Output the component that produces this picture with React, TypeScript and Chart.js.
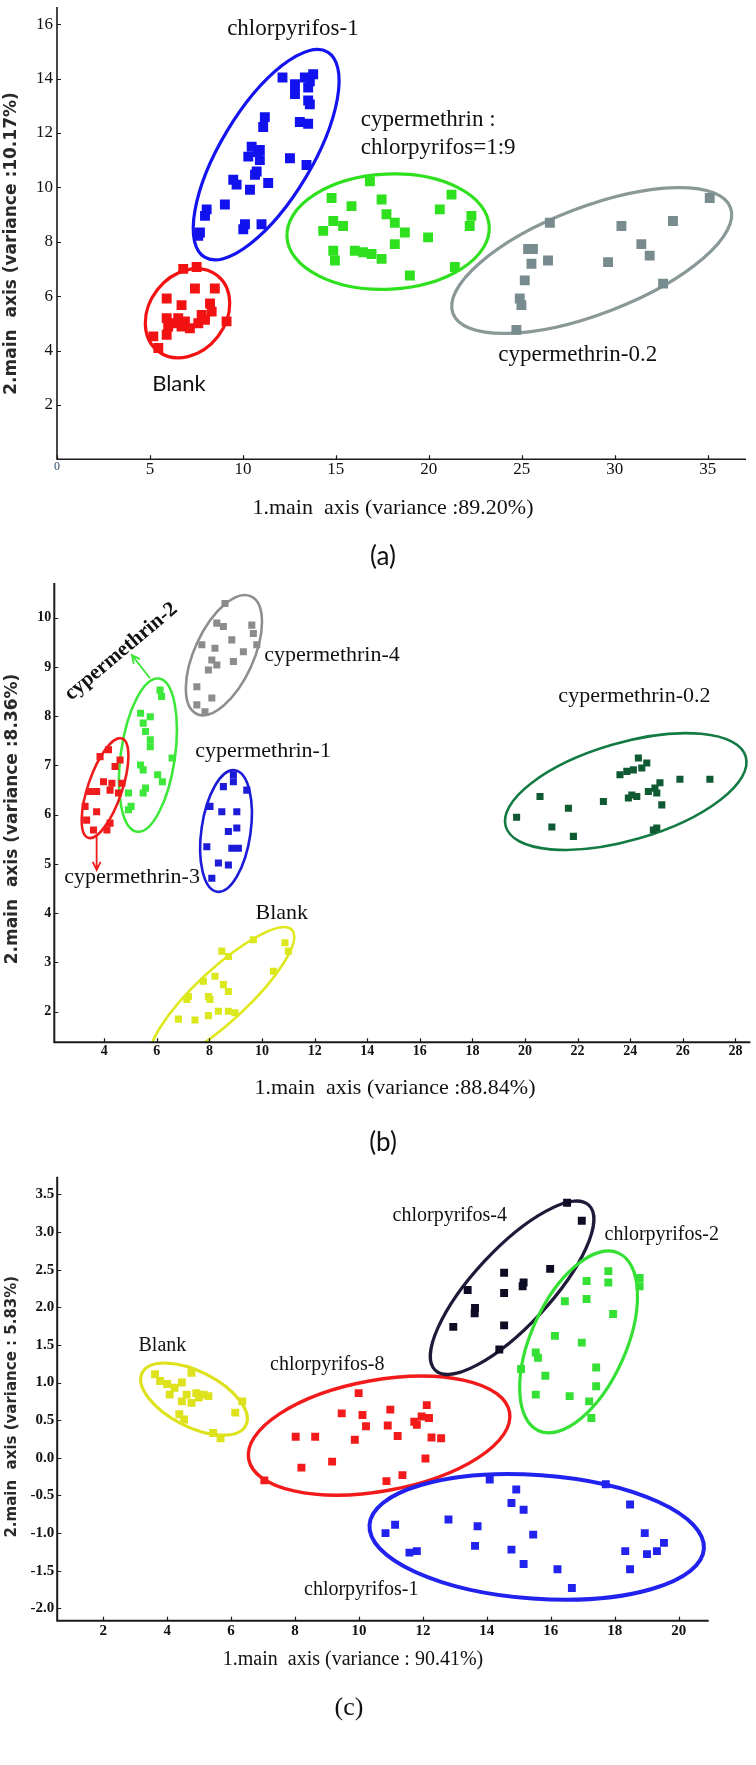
import React, { useEffect, useRef } from 'react';
import { Chart, registerables } from 'chart.js';

Chart.register(...registerables);

type Pt = [number, number];
// ellipse geometry in data units: [centerX, centerY, majorSemiAxisDX, majorSemiAxisDY, minor/major ratio]
type Ell = [number, number, number, number, number];

// ---------------- Panel (a) ----------------
const aXTicks = ['0', '5', '10', '15', '20', '25', '30', '35'];
const aYTicks = ['2', '4', '6', '8', '10', '12', '14', '16'];
const aChlorpyrifos1: Pt[] = [
  [12.13, 14.04], [12.8, 13.79], [12.8, 13.43], [13.33, 14.04], [13.78, 14.16], [13.51, 13.67], [13.51, 13.19],
  [13.06, 12.4], [13.51, 12.34], [11.18, 12.58], [11.09, 12.22], [10.47, 11.49], [10.91, 11.37], [10.29, 11.13],
  [10.91, 11.0], [10.74, 10.58], [11.36, 10.16], [12.53, 11.07], [13.42, 10.82], [9.48, 10.28], [9.66, 10.1],
  [10.38, 9.91], [9.03, 9.37], [8.05, 9.19], [7.96, 8.95], [7.69, 8.34], [7.6, 8.22], [10.11, 8.64], [10.02, 8.46],
  [11.0, 8.64], [10.65, 10.46], [13.6, 13.9], [10.8, 11.3], [13.6, 13.05],
];
const aBlank: Pt[] = [
  [6.79, 7.0], [7.51, 7.07], [7.42, 6.28], [8.49, 6.28], [5.9, 5.91], [6.7, 5.67], [8.23, 5.73], [8.32, 5.43],
  [5.9, 5.19], [6.52, 5.19], [6.88, 5.07], [5.98, 4.88], [6.7, 4.88], [7.15, 4.82], [7.6, 5.0], [7.96, 5.13],
  [9.12, 5.07], [5.9, 4.58], [5.18, 4.52], [5.45, 4.09], [6.25, 5.0], [7.78, 5.31],
];
const aMix: Pt[] = [
  [16.83, 10.22], [14.77, 9.61], [15.84, 9.31], [17.46, 9.55], [21.22, 9.73], [20.59, 9.19], [22.29, 8.95],
  [22.2, 8.58], [17.72, 9.01], [18.17, 8.7], [18.71, 8.34], [14.86, 8.76], [15.39, 8.58], [14.32, 8.4],
  [19.96, 8.16], [18.17, 7.91], [14.86, 7.67], [14.95, 7.31], [16.02, 7.67], [16.47, 7.61], [16.92, 7.55],
  [17.46, 7.37], [18.98, 6.76], [21.4, 7.07],
];
const aCyper02: Pt[] = [
  [26.51, 8.7], [30.36, 8.58], [33.13, 8.76], [35.11, 9.61], [25.34, 7.73], [25.6, 7.73], [31.43, 7.91],
  [31.88, 7.49], [26.41, 7.31], [25.52, 7.19], [29.64, 7.25], [25.16, 6.58], [24.89, 5.91], [24.98, 5.67],
  [32.6, 6.46], [24.71, 4.76],
];
const aEllChlorpyrifos1: Ell = [11.25, 11.2, 3.31, 3.77, 0.382];
const aEllBlank: Ell = [7.02, 5.37, 1.587, 1.393, 0.797];
const aEllMix: Ell = [17.81, 8.37, 5.44, 0.19, 0.568];
const aEllCyper02: Ell = [28.76, 7.31, 7.46, 1.953, 0.36];
const aLabels = [
  { text: 'chlorpyrifos-1', x: 12.69, y: 15.83 },
  { text: 'cypermethrin :', x: 16.34, y: 12.46 },
  { text: 'chlorpyrifos=1:9', x: 16.34, y: 11.43 },
  { text: 'cypermethrin-0.2', x: 28.01, y: 3.83 },
  { text: 'Blank', x: 6.56, y: 2.79 },
];

// ---------------- Panel (b) ----------------
const bXTicks = ['4', '6', '8', '10', '12', '14', '16', '18', '20', '22', '24', '26', '28'];
const bYTicks = ['2', '3', '4', '5', '6', '7', '8', '9', '10'];
const bCyper4: Pt[] = [
  [8.59, 10.29], [8.28, 9.89], [8.53, 9.82], [9.61, 9.85], [9.67, 9.68], [8.85, 9.55], [9.8, 9.45], [7.71, 9.45],
  [8.21, 9.38], [9.29, 9.31], [8.09, 9.14], [8.28, 9.04], [7.96, 8.94], [8.91, 9.11], [7.52, 8.6], [8.09, 8.37],
  [7.52, 8.23], [7.83, 8.09],
];
const bCyper2: Pt[] = [
  [6.12, 8.53], [6.18, 8.4], [5.38, 8.06], [5.75, 7.99], [5.48, 7.86], [5.57, 7.69], [5.75, 7.52], [5.75, 7.38],
  [6.58, 7.15], [5.38, 7.01], [5.48, 6.91], [6.03, 6.81], [6.21, 6.67], [5.57, 6.54], [5.48, 6.44], [4.92, 6.44],
  [5.02, 6.17], [4.92, 6.1],
];
const bCyper3: Pt[] = [
  [3.84, 7.18], [4.16, 7.32], [4.6, 7.11], [4.41, 6.98], [3.97, 6.67], [4.29, 6.64], [4.67, 6.64], [3.46, 6.47],
  [3.71, 6.47], [4.22, 6.5], [4.54, 6.44], [3.27, 6.17], [3.71, 6.06], [3.33, 5.89], [4.22, 5.83], [3.59, 5.69],
  [4.1, 5.69],
];
const bCyper1: Pt[] = [
  [8.91, 6.81], [8.91, 6.67], [8.53, 6.57], [9.42, 6.5], [8.02, 6.17], [8.47, 6.06], [9.04, 6.06], [9.04, 5.73],
  [8.72, 5.66], [8.85, 5.32], [9.1, 5.32], [7.9, 5.35], [8.34, 5.02], [8.72, 4.98], [8.09, 4.71],
];
const bCyper02: Pt[] = [
  [24.31, 7.15], [24.63, 7.05], [24.44, 6.95], [24.12, 6.91], [23.87, 6.88], [23.61, 6.81], [25.89, 6.72],
  [27.03, 6.72], [25.13, 6.65], [24.94, 6.54], [24.69, 6.47], [25.01, 6.44], [24.06, 6.4], [23.93, 6.34],
  [24.25, 6.37], [25.2, 6.2], [20.57, 6.37], [22.98, 6.27], [21.65, 6.13], [19.68, 5.95], [21.02, 5.75],
  [21.84, 5.56], [24.88, 5.69], [25.01, 5.73],
];
const bBlank: Pt[] = [
  [9.67, 3.46], [10.87, 3.4], [11.0, 3.23], [8.47, 3.23], [8.72, 3.12], [10.43, 2.82], [8.21, 2.72], [7.77, 2.62],
  [8.53, 2.55], [8.72, 2.41], [7.2, 2.31], [7.96, 2.31], [7.14, 2.25], [8.02, 2.25], [8.34, 2.01], [8.72, 2.01],
  [8.97, 1.98], [7.96, 1.92], [6.82, 1.85], [7.45, 1.83],
];
const bEllCyper4: Ell = [8.55, 9.24, 1.03, 1.194, 0.455];
const bEllCyper2: Ell = [5.66, 7.21, 0.418, 1.555, 0.35];
const bEllCyper3: Ell = [4.03, 6.54, 0.643, 1.009, 0.324];
const bEllCyper1: Ell = [8.63, 5.67, 0.337, 1.234, 0.4];
const bEllCyper02: Ell = [23.83, 6.47, 4.563, 0.709, 0.39];
const bEllBlank: Ell = [8.48, 2.34, 2.66, 1.32, 0.272];
const bLabels = [
  { text: 'cypermethrin-2', x: 4.64, y: 9.31 },
  { text: 'cypermethrin-4', x: 10.08, y: 9.24 },
  { text: 'cypermethrin-1', x: 10.04, y: 7.28 },
  { text: 'cypermethrin-3', x: 5.06, y: 4.74 },
  { text: 'cypermethrin-0.2', x: 24.16, y: 8.4 },
  { text: 'Blank', x: 10.75, y: 4.0 },
];
// arrows: [fromX, fromY, toX, toY]
const bArrowCyper2 = [5.74, 8.77, 5.05, 9.24];
const bArrowCyper3 = [3.71, 5.55, 3.71, 4.88];

// ---------------- Panel (c) ----------------
const cXTicks = ['2', '4', '6', '8', '10', '12', '14', '16', '18', '20'];
const cYTicks = ['-2.0', '-1.5', '-1.0', '-0.5', '0.0', '0.5', '1.0', '1.5', '2.0', '2.5', '3.0', '3.5'];
const cBlank: Pt[] = [
  [3.62, 1.11], [4.0, 0.98], [4.46, 1.0], [4.76, 1.13], [4.08, 0.84], [4.61, 0.84], [4.91, 0.86], [4.99, 0.8],
  [4.76, 0.73], [5.29, 0.82], [4.46, 0.75], [4.38, 0.58], [4.53, 0.51], [6.35, 0.75], [6.13, 0.6], [5.44, 0.33],
  [5.67, 0.26], [3.78, 1.02], [4.23, 0.93], [5.14, 0.84],
];
const cChlor8: Pt[] = [
  [9.99, 0.86], [9.46, 0.59], [10.11, 0.57], [10.22, 0.42], [10.98, 0.64], [10.9, 0.43], [11.21, 0.29],
  [12.12, 0.7], [12.19, 0.53], [11.96, 0.55], [11.81, 0.44], [12.27, 0.27], [12.57, 0.26], [8.02, 0.28],
  [8.63, 0.28], [9.87, 0.24], [9.16, -0.05], [12.08, -0.01], [8.2, -0.13], [7.04, -0.3], [10.86, -0.31],
  [11.36, -0.23], [11.73, 0.48],
];
const cChlor4: Pt[] = [
  [16.51, 3.39], [16.97, 3.15], [15.98, 2.51], [14.54, 2.46], [15.15, 2.33], [13.4, 2.23], [14.54, 2.19],
  [13.63, 1.99], [12.95, 1.74], [14.54, 1.76], [14.39, 1.44], [15.12, 2.28], [13.62, 1.92],
];
const cChlor2: Pt[] = [
  [16.44, 2.08], [17.12, 2.35], [17.12, 2.11], [17.8, 2.48], [17.8, 2.33], [18.78, 2.39], [18.78, 2.28],
  [17.95, 1.91], [16.13, 1.62], [16.97, 1.53], [15.53, 1.4], [15.6, 1.33], [15.07, 1.18], [17.42, 1.2],
  [15.83, 1.09], [17.42, 0.95], [15.53, 0.84], [16.59, 0.82], [17.2, 0.75], [17.27, 0.53],
];
const cChlor1: Pt[] = [
  [14.09, -0.29], [14.92, -0.42], [14.77, -0.6], [15.15, -0.69], [17.72, -0.35], [18.48, -0.62], [12.8, -0.82],
  [11.13, -0.89], [10.83, -1.0], [13.71, -0.91], [15.45, -1.02], [18.94, -1.0], [13.63, -1.17], [14.77, -1.22],
  [11.81, -1.24], [11.58, -1.26], [19.01, -1.28], [19.32, -1.24], [19.54, -1.13], [18.33, -1.24], [15.15, -1.41],
  [16.21, -1.48], [18.48, -1.48], [16.66, -1.73],
];
const cEllBlank: Ell = [4.84, 0.78, 1.62, -0.349, 0.478];
const cEllChlor8: Ell = [10.63, 0.295, 4.08, 0.312, 0.419];
const cEllChlor4: Ell = [14.79, 2.26, 2.4, 1.098, 0.34];
const cEllChlor2: Ell = [16.87, 1.54, 1.251, 1.18, 0.487];
const cEllChlor1: Ell = [15.56, -1.05, 5.23, -0.16, 0.369];
const cLabels = [
  { text: 'chlorpyrifos-4', x: 12.84, y: 3.21 },
  { text: 'chlorpyrifos-2', x: 19.47, y: 2.97 },
  { text: 'Blank', x: 3.85, y: 1.49 },
  { text: 'chlorpyrifos-8', x: 9.01, y: 1.24 },
  { text: 'chlorpyrifos-1', x: 10.07, y: -1.75 },
];

// ---------------- rendering ----------------
const SERIF = '"Liberation Serif", "Times New Roman", serif';
const SANS_B = '"DejaVu Sans", Verdana, sans-serif';

function makeOverlay(spec: any) {
  return {
    id: 'overlay',
    beforeDatasetsDraw(chart: any) {
      const { ctx, chartArea: ca, scales } = chart;
      const xs = scales.x, ys = scales.y;
      ctx.save();
      ctx.beginPath();
      ctx.rect(ca.left, ca.top - 2, ca.right - ca.left + 2, ca.bottom - ca.top + 2);
      ctx.clip();
      spec.ellipses.forEach((e: any) => {
        const [cx, cy, ux, uy, r] = e.geom;
        const px = xs.getPixelForValue(cx), py = ys.getPixelForValue(cy);
        const qx = xs.getPixelForValue(cx + ux) - px, qy = ys.getPixelForValue(cy + uy) - py;
        const a = Math.hypot(qx, qy);
        ctx.beginPath();
        ctx.ellipse(px, py, a, a * r, Math.atan2(qy, qx), 0, Math.PI * 2);
        ctx.strokeStyle = e.color;
        ctx.lineWidth = e.width;
        ctx.stroke();
      });
      ctx.restore();
    },
    afterDraw(chart: any) {
      const { ctx, chartArea: ca, scales } = chart;
      const xs = scales.x, ys = scales.y;
      ctx.save();
      // axes
      ctx.strokeStyle = spec.axisColor;
      ctx.lineWidth = spec.axisWidth;
      ctx.beginPath();
      ctx.moveTo(ca.left, ca.top);
      ctx.lineTo(ca.left, ca.bottom);
      ctx.lineTo(ca.right, ca.bottom);
      ctx.stroke();
      // inward tick marks
      ctx.lineWidth = 1.2;
      ctx.beginPath();
      xs.ticks.forEach((_t: any, i: number) => {
        const p = Math.round(xs.getPixelForTick(i)) + 0.5;
        ctx.moveTo(p, ca.bottom);
        ctx.lineTo(p, ca.bottom - spec.tickLen);
      });
      ys.ticks.forEach((_t: any, i: number) => {
        const p = Math.round(ys.getPixelForTick(i)) + 0.5;
        ctx.moveTo(ca.left, p);
        ctx.lineTo(ca.left + spec.tickLen, p);
      });
      ctx.stroke();
      // arrows
      (spec.arrows || []).forEach((a: any) => {
        const [x1, y1, x2, y2] = a.pts;
        const p1x = xs.getPixelForValue(x1), p1y = ys.getPixelForValue(y1);
        const p2x = xs.getPixelForValue(x2), p2y = ys.getPixelForValue(y2);
        const ang = Math.atan2(p2y - p1y, p2x - p1x);
        ctx.strokeStyle = a.color;
        ctx.lineWidth = 1.8;
        ctx.beginPath();
        ctx.moveTo(p1x, p1y);
        ctx.lineTo(p2x, p2y);
        const hl = 9;
        ctx.moveTo(p2x - hl * Math.cos(ang - 0.45), p2y - hl * Math.sin(ang - 0.45));
        ctx.lineTo(p2x, p2y);
        ctx.lineTo(p2x - hl * Math.cos(ang + 0.45), p2y - hl * Math.sin(ang + 0.45));
        ctx.stroke();
      });
      // data-anchored labels
      spec.labels.forEach((l: any, i: number) => {
        const s = { ...spec.labelStyle, ...((spec.labelStyles && spec.labelStyles[i]) || {}) };
        const px = xs.getPixelForValue(l.x), py = ys.getPixelForValue(l.y);
        ctx.save();
        ctx.translate(px, py);
        ctx.rotate(((s.rot || 0) * Math.PI) / 180);
        ctx.font = s.font;
        ctx.fillStyle = s.color || '#111';
        ctx.textAlign = s.align || 'center';
        ctx.textBaseline = 'middle';
        ctx.fillText(l.text, 0, 0);
        ctx.restore();
      });
      // axis titles and caption
      spec.titles.forEach((t: any) => {
        ctx.save();
        ctx.translate(t.x, t.y);
        ctx.rotate(((t.rot || 0) * Math.PI) / 180);
        ctx.font = t.font;
        ctx.fillStyle = t.color || '#111';
        ctx.textAlign = 'center';
        ctx.textBaseline = 'middle';
        ctx.fillText(t.text, 0, 0);
        ctx.restore();
      });
      ctx.restore();
    },
  };
}

function dataset(label: string, pts: Pt[], color: string, radius: number) {
  return {
    label,
    data: pts.map(([x, y]) => ({ x, y })),
    pointStyle: 'rect',
    pointRadius: radius,
    pointBackgroundColor: color,
    pointBorderWidth: 0,
    borderWidth: 0,
    showLine: false,
  };
}

function buildConfig(p: any) {
  const tickFont = (base: any, special?: any) => (ctx: any) =>
    special && ctx.tick && ctx.tick.value === special.value ? special.font : base;
  return {
    type: 'scatter',
    data: { datasets: p.datasets },
    options: {
      responsive: false,
      animation: false,
      devicePixelRatio: 1,
      events: [],
      layout: { padding: { left: 0, top: p.padTop, right: p.padRight, bottom: 0 } },
      plugins: { legend: { display: false }, tooltip: { enabled: false } },
      scales: {
        x: {
          type: 'linear',
          min: p.xMin,
          max: p.xMax,
          afterBuildTicks: (s: any) => {
            s.ticks = p.xTicks.map((t: string) => ({ value: parseFloat(t) }));
          },
          afterFit: (s: any) => {
            s.height = p.xHeight;
            s.paddingLeft = 0;
            s.paddingRight = 0;
          },
          grid: { display: false, drawTicks: false },
          border: { display: false },
          ticks: {
            autoSkip: false,
            maxRotation: 0,
            padding: p.xTickPad,
            font: tickFont(p.tickFont, p.xSpecial),
            color: (ctx: any) => (p.xSpecial && ctx.tick && ctx.tick.value === p.xSpecial.value ? p.xSpecial.color : '#111'),
            callback: (_v: any, i: number) => p.xTicks[i],
          },
        },
        y: {
          type: 'linear',
          min: p.yMin,
          max: p.yMax,
          afterBuildTicks: (s: any) => {
            s.ticks = p.yTicks.map((t: string) => ({ value: parseFloat(t) }));
          },
          afterFit: (s: any) => {
            s.width = p.yWidth;
            s.paddingTop = 0;
            s.paddingBottom = 0;
          },
          grid: { display: false, drawTicks: false },
          border: { display: false },
          ticks: {
            autoSkip: false,
            padding: p.yTickPad,
            font: p.tickFont,
            color: '#111',
            callback: (_v: any, i: number) => p.yTicks[i],
          },
        },
      },
    },
    plugins: [makeOverlay(p.overlay)],
  };
}

function Panel({ top, height, cfg }: { top: number; height: number; cfg: any }) {
  const ref = useRef<HTMLCanvasElement>(null);
  useEffect(() => {
    const chart = new Chart(ref.current as HTMLCanvasElement, buildConfig(cfg) as any);
    return () => chart.destroy();
  }, []);
  return (
    <canvas
      ref={ref}
      width={756}
      height={height}
      style={{ position: 'absolute', left: 0, top, width: 756, height, display: 'block' }}
    />
  );
}

const panelA = {
  xMin: 0, xMax: 37.06, yMin: 0, yMax: 16.63,
  xTicks: aXTicks, yTicks: aYTicks,
  yWidth: 57, xHeight: 115.7, padTop: 2, padRight: 10,
  xTickPad: 0, yTickPad: 4,
  tickFont: { family: SERIF, size: 17 },
  xSpecial: { value: 0, font: { family: SERIF, size: 12 }, color: '#2d4f73' },
  datasets: [
    dataset('Blank', aBlank, '#f21212', 7),
    dataset('chlorpyrifos-1', aChlorpyrifos1, '#1212ee', 7),
    dataset('cypermethrin : chlorpyrifos=1:9', aMix, '#2fe01f', 7),
    dataset('cypermethrin-0.2', aCyper02, '#788b8f', 7),
  ],
  overlay: {
    axisColor: '#1a1a1a', axisWidth: 1.6, tickLen: 4,
    ellipses: [
      { geom: aEllBlank, color: '#f21212', width: 3.2 },
      { geom: aEllChlorpyrifos1, color: '#1414f0', width: 3.2 },
      { geom: aEllMix, color: '#2fe01f', width: 3.2 },
      { geom: aEllCyper02, color: '#8a9898', width: 3.2 },
    ],
    labels: aLabels,
    labelStyle: { font: `23px ${SERIF}`, color: '#111' },
    labelStyles: [{}, { align: 'left' }, { align: 'left' }, {}, { font: '22px Lato, "Open Sans", sans-serif' }],
    titles: [
      { text: '1.main  axis (variance :89.20%)', x: 393, y: 508, font: `22px ${SERIF}` },
      { text: '2.main  axis (variance :10.17%)', x: 12, y: 243.5, rot: -90, font: `bold 17px ${SANS_B}`, color: '#2a2a2a' },
      { text: '(a)', x: 383, y: 557, font: '26px Lato, "Open Sans", sans-serif' },
    ],
  },
};

const panelB = {
  xMin: 2.1, xMax: 28.57, yMin: 1.379, yMax: 10.705,
  xTicks: bXTicks, yTicks: bYTicks,
  yWidth: 54.3, xHeight: 127.7, padTop: 8, padRight: 5.6,
  xTickPad: 1, yTickPad: 3,
  tickFont: { family: SERIF, size: 14, weight: 'bold' },
  datasets: [
    dataset('cypermethrin-4', bCyper4, '#8c8c8c', 5),
    dataset('cypermethrin-2', bCyper2, '#3ee83a', 5),
    dataset('cypermethrin-3', bCyper3, '#ee1c1c', 5),
    dataset('cypermethrin-1', bCyper1, '#1c1cd8', 5),
    dataset('cypermethrin-0.2', bCyper02, '#0f5a32', 5),
    dataset('Blank', bBlank, '#dce81e', 5),
  ],
  overlay: {
    axisColor: '#1a1a1a', axisWidth: 2, tickLen: 4,
    ellipses: [
      { geom: bEllCyper4, color: '#8e8e8e', width: 2.6 },
      { geom: bEllCyper2, color: '#3ee83a', width: 2.6 },
      { geom: bEllCyper3, color: '#ee1c1c', width: 2.6 },
      { geom: bEllCyper1, color: '#1c1cd8', width: 2.6 },
      { geom: bEllCyper02, color: '#137a43', width: 2.6 },
      { geom: bEllBlank, color: '#dfe81e', width: 2.6 },
    ],
    arrows: [
      { pts: bArrowCyper2, color: '#3ee83a' },
      { pts: bArrowCyper3, color: '#ee1c1c' },
    ],
    labels: bLabels,
    labelStyle: { font: `22px ${SERIF}`, color: '#111' },
    labelStyles: [{ rot: -40, font: `bold 21px ${SERIF}` }, { align: 'left' }, {}, {}, {}, {}],
    titles: [
      { text: '1.main  axis (variance :88.84%)', x: 395, y: 513, font: `22px ${SERIF}` },
      { text: '2.main  axis (variance :8.36%)', x: 13, y: 244, rot: -90, font: `bold 17px ${SANS_B}`, color: '#2a2a2a' },
      { text: '(b)', x: 383, y: 568, font: '26px Lato, "Open Sans", sans-serif' },
    ],
  },
};

const panelC = {
  xMin: 0.56, xMax: 20.94, yMin: -2.164, yMax: 3.735,
  xTicks: cXTicks, yTicks: cYTicks,
  yWidth: 57.2, xHeight: 144.3, padTop: 6.7, padRight: 47.3,
  xTickPad: 1, yTickPad: 3,
  tickFont: { family: SERIF, size: 15, weight: 'bold' },
  datasets: [
    dataset('Blank', cBlank, '#dde21c', 5.6),
    dataset('chlorpyrifos-8', cChlor8, '#f21a1a', 5.6),
    dataset('chlorpyrifos-4', cChlor4, '#0e0b24', 5.6),
    dataset('chlorpyrifos-2', cChlor2, '#33e033', 5.6),
    dataset('chlorpyrifos-1', cChlor1, '#2222ee', 5.6),
  ],
  overlay: {
    axisColor: '#1a1a1a', axisWidth: 2, tickLen: 4,
    ellipses: [
      { geom: cEllBlank, color: '#dde21c', width: 3.2 },
      { geom: cEllChlor8, color: '#f21a1a', width: 3.4 },
      { geom: cEllChlor4, color: '#1f1a3a', width: 3.2 },
      { geom: cEllChlor2, color: '#33e033', width: 3.2 },
      { geom: cEllChlor1, color: '#2222ee', width: 4 },
    ],
    labels: cLabels,
    labelStyle: { font: `20px ${SERIF}`, color: '#111' },
    titles: [
      { text: '1.main  axis (variance : 90.41%)', x: 353, y: 490, font: `20px ${SERIF}` },
      { text: '2.main  axis (variance : 5.83%)', x: 12.6, y: 236.7, rot: -90, font: `bold 15px ${SANS_B}`, color: '#2a2a2a' },
      { text: '(c)', x: 349, y: 538, font: `26px ${SERIF}` },
    ],
  },
};

export default function App() {
  return (
    <div style={{ position: 'absolute', left: 0, top: 0, width: 756, height: 1765, background: '#fff', overflow: 'hidden' }}>
      <Panel top={0} height={575} cfg={panelA} />
      <Panel top={575} height={595} cfg={panelB} />
      <Panel top={1170} height={595} cfg={panelC} />
    </div>
  );
}
